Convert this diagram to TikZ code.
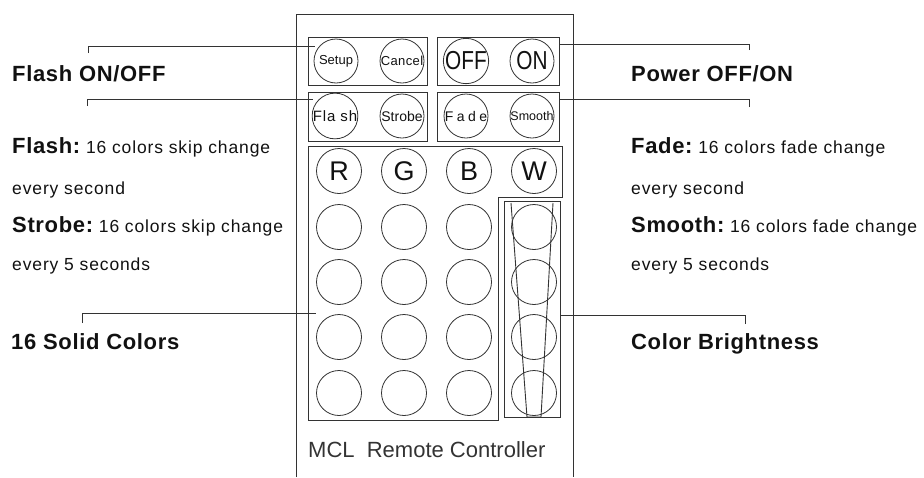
\documentclass[tikz,border=0pt]{standalone}
\usepackage{fontspec}
\setmainfont{Liberation Sans}
\usepackage{graphicx}
\definecolor{linec}{HTML}{333333}
\definecolor{txtc}{HTML}{111111}
\newcommand\hdrfont{\fontsize{22}{26}\selectfont\bfseries\addfontfeatures{LetterSpace=3}}
\newcommand\descfont{\fontsize{17.5}{20}\selectfont\mdseries\addfontfeatures{LetterSpace=5}}
\begin{document}
\begin{tikzpicture}[x=1pt,y=-1pt,
  ln/.style={draw=linec, line width=0.9pt},
  btn/.style={circle, draw=linec, line width=0.8pt, minimum size=44pt, inner sep=0pt, text=txtc},
  bigbtn/.style={btn, minimum size=45pt, font=\fontsize{27}{27}\selectfont},
  lbl/.style={anchor=base west, inner sep=0pt, text=txtc}]
\useasboundingbox (0,0) rectangle (924,477);
% remote outline
\draw[ln] (296,477) -- (296,14) -- (573,14) -- (573,477);
% group boxes
\draw[ln] (308,37) rectangle (427,85);
\draw[ln] (437,37) rectangle (559,85);
\draw[ln] (308,92) rectangle (427,141);
\draw[ln] (437,92) rectangle (559,141);
\draw[ln] (308,146) -- (562,146) -- (562,197) -- (498,197) -- (498,420) -- (308,420) -- cycle;
\draw[ln] (504,201) rectangle (560,417);
\draw[ln] (511,203) -- (527,417) -- (541,417) -- (553,203);
% top buttons
\node[btn, font=\fontsize{13}{13}\selectfont] (setup) at (336,61) {Setup};
\node[btn, font=\fontsize{13}{13}\selectfont\addfontfeatures{LetterSpace=3}] (cancel) at (402,61) {Cancel};
\node[btn, font=\fontsize{26}{26}\selectfont] (off) at (466,61) {\scalebox{0.8}[1]{OFF}};
\node[btn, font=\fontsize{26}{26}\selectfont] (on) at (532,61) {\scalebox{0.8}[1]{ON}};
\node[btn, font=\fontsize{15}{15}\selectfont\addfontfeatures{LetterSpace=6}] (flash) at (335,116) {Fla sh};
\node[btn, font=\fontsize{14}{14}\selectfont] (strobe) at (402,116) {Strobe};
\node[btn, font=\fontsize{14}{14}\selectfont\addfontfeatures{LetterSpace=25}] (fade) at (466,116) {Fade};
\node[btn, font=\fontsize{12.5}{12.5}\selectfont] (smooth) at (532,116) {Smooth};
% colour grid
\node[bigbtn] (r) at (339,171) {R};
\node[bigbtn] (g) at (404,171) {G};
\node[bigbtn] (b) at (469,171) {B};
\node[bigbtn] (w) at (534,171) {W};
\foreach \y [count=\i] in {227,282,337,393}{
  \foreach \x [count=\j] in {339,404,469}{
    \node[btn, minimum size=45pt] (c\i\j) at (\x,\y) {};
  }
  \node[btn, minimum size=45pt] (br\i) at (534,\y) {};
}
% leader lines
\coordinate (l1a) at (88,53);  \coordinate (l1b) at (315,46);
\coordinate (l2a) at (87,106); \coordinate (l2b) at (313,99);
\coordinate (l3a) at (82,323); \coordinate (l3b) at (316,313);
\coordinate (r1a) at (749,50); \coordinate (r1b) at (559,44);
\coordinate (r2a) at (749,107);\coordinate (r2b) at (559,99);
\coordinate (r3a) at (745,324);\coordinate (r3b) at (560,315);
\draw[ln] (l1a) |- (l1b);
\draw[ln] (l2a) |- (l2b);
\draw[ln] (l3a) |- (l3b);
\draw[ln] (r1a) |- (r1b);
\draw[ln] (r2a) |- (r2b);
\draw[ln] (r3a) |- (r3b);
% left texts
\node[lbl] (t1) at (12,81) {\hdrfont Flash ON/OFF};
\node[lbl] (t2) at (12,153) {{\hdrfont Flash:}{\descfont\ 16 colors skip change}};
\node[lbl] (t3) at (12,194) {\descfont every second};
\node[lbl] (t4) at (12,232) {{\hdrfont Strobe:}{\descfont\ 16 colors skip change}};
\node[lbl] (t5) at (12,270) {\descfont every 5 seconds};
\node[lbl] (t6) at (11,349) {\hdrfont 16 Solid Colors};
% right texts
\node[lbl] (u1) at (631,81) {\hdrfont Power OFF/ON};
\node[lbl] (u2) at (631,153) {{\hdrfont Fade:}{\descfont\ 16 colors fade change}};
\node[lbl] (u3) at (631,194) {\descfont every second};
\node[lbl] (u4) at (631,232) {{\hdrfont Smooth:}{\descfont\ 16 colors fade change}};
\node[lbl] (u5) at (631,270) {\descfont every 5 seconds};
\node[lbl] (u6) at (631,349) {\hdrfont Color Brightness};
% title
\node[lbl, text=linec, font=\fontsize{22}{22}\selectfont] (mcl) at (308,457) {MCL\ \ Remote Controller};
\end{tikzpicture}
\end{document}
